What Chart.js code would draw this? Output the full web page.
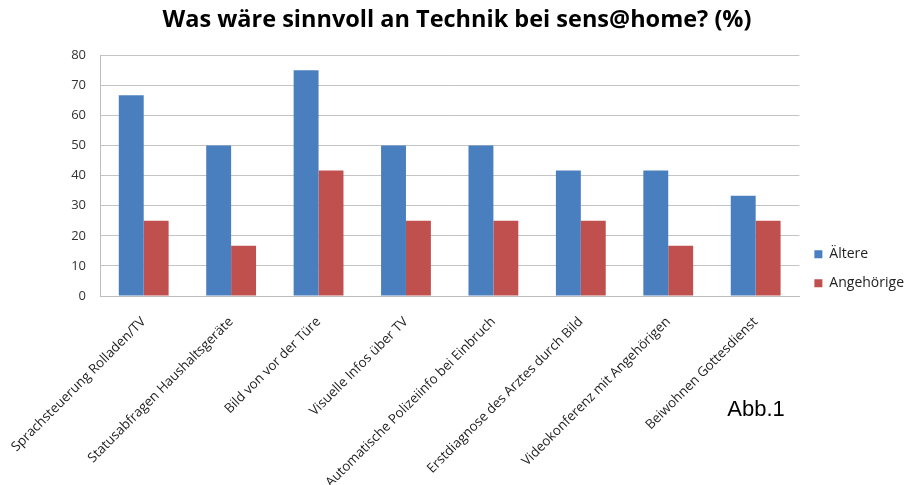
<!DOCTYPE html>
<html>
<head>
<meta charset="utf-8">
<script src="https://cdn.jsdelivr.net/npm/chart.js@4/dist/chart.umd.min.js"></script>
<style>
    body { margin: 0; background: #fff; }
    .container { width: 914px; height: 485px; position: relative; }
</style>
</head>
<body>
<div class="container"><canvas id="techChart"></canvas></div>
<script>
const categories = [
    'Sprachsteuerung Rolladen/TV',
    'Statusabfragen Haushaltsgeräte',
    'Bild von vor der Türe',
    'Visuelle Infos über TV',
    'Automatische Polizeiinfo bei Einbruch',
    'Erstdiagnose des Arztes durch Bild',
    'Videokonferenz mit Angehörigen',
    'Beiwohnen Gottesdienst'
];
const aeltere = [66.7, 50, 75, 50, 50, 41.7, 41.7, 33.3];
const angehoerige = [25, 16.7, 41.7, 25, 25, 25, 16.7, 25];
const yTicks = [0, 10, 20, 30, 40, 50, 60, 70, 80];

// "Abb.1" caption under the legend
const captionPlugin = {
    id: 'caption',
    afterDraw(chart) {
        const c = chart.ctx;
        c.save();
        c.font = '22px "Liberation Sans", Arial, sans-serif';
        c.fillStyle = '#000';
        c.textAlign = 'center';
        c.textBaseline = 'middle';
        c.fillText('Abb.1', 756, 410);
        c.restore();
    }
};

document.addEventListener('DOMContentLoaded', () => {
    const ctx = document.getElementById('techChart').getContext('2d');
    new Chart(ctx, {
        type: 'bar',
        data: {
            labels: categories,
            datasets: [{
                label: 'Ältere',
                data: aeltere,
                backgroundColor: '#4a7fbf'
            }, {
                label: 'Angehörige',
                data: angehoerige,
                backgroundColor: '#c0504d'
            }]
        },
        plugins: [captionPlugin],
        options: {
            responsive: true,
            maintainAspectRatio: false,
            animation: false,
            layout: { padding: 0 },
            datasets: {
                bar: { barPercentage: 1, categoryPercentage: 0.57 }
            },
            plugins: {
                title: {
                    display: true,
                    text: 'Was wäre sinnvoll an Technik bei sens@home? (%)',
                    color: '#000',
                    font: { family: '"Open Sans"', size: 23.5, weight: 'bold' },
                    padding: { top: 6, bottom: 21 }
                },
                legend: {
                    position: 'right',
                    align: 'center',
                    // empty title only pushes the items down a little
                    title: { display: true, text: ' ', padding: { top: 38, bottom: 0 } },
                    labels: {
                        boxWidth: 8,
                        boxHeight: 8,
                        padding: 15,
                        color: '#222',
                        font: { family: '"Open Sans"', size: 14 }
                    }
                },
                tooltip: { enabled: false }
            },
            scales: {
                x: {
                    afterFit: axis => {
                        axis.height = 189;
                        axis.paddingLeft = 0;
                        axis.paddingRight = 0;
                    },
                    grid: { display: false },
                    border: { display: true, color: '#bdbdbd' },
                    ticks: {
                        minRotation: 45,
                        maxRotation: 45,
                        autoSkip: false,
                        padding: 10,
                        color: '#222',
                        font: { family: '"Open Sans"', size: 13.3 }
                    }
                },
                y: {
                    min: 0,
                    max: 80,
                    afterBuildTicks: axis => { axis.ticks = yTicks.map(v => ({ value: v })); },
                    afterFit: axis => { axis.width = 100; },
                    grid: { color: '#c4c4c4', drawTicks: false },
                    border: { display: true, color: '#bdbdbd' },
                    ticks: {
                        padding: 14,
                        color: '#333',
                        font: { family: '"Open Sans"', size: 13 }
                    }
                }
            }
        }
    });
});
</script>
</body>
</html>
